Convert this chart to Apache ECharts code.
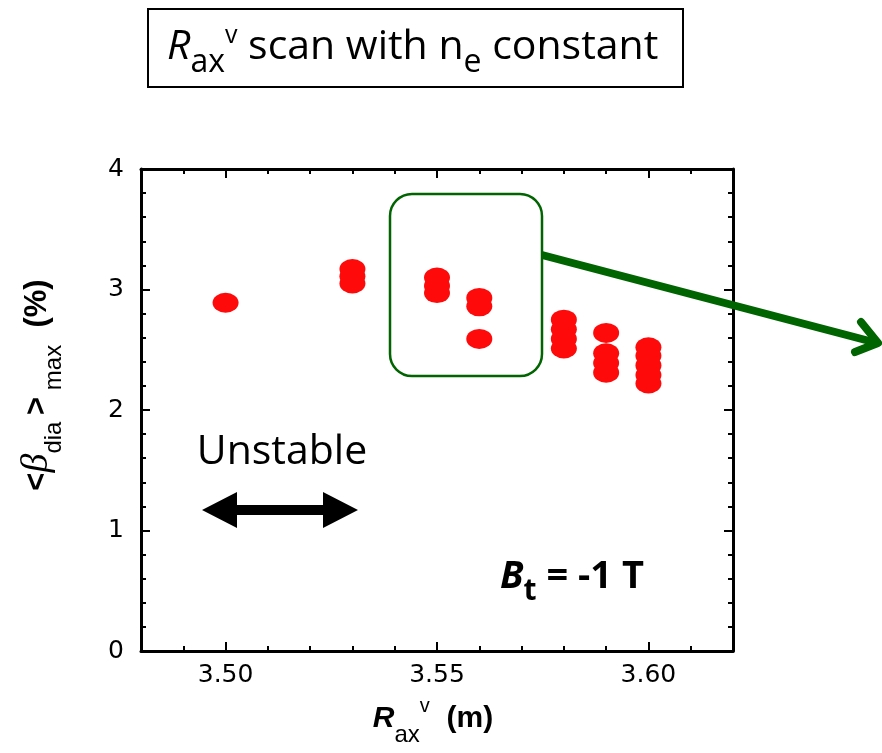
<!DOCTYPE html>
<html>
<head>
<meta charset="utf-8">
<script src="https://cdn.jsdelivr.net/npm/echarts@6/dist/echarts.min.js"></script>
<style>
  html, body { margin: 0; padding: 0; background: #fff; }
  #chart { width: 882px; height: 753px; }
</style>
</head>
<body>
<div id="chart"></div>
<script>
// Magnetic axis position scan: R_ax^v (m) vs peak diamagnetic beta (%)
const rax = [3.50,
             3.53, 3.53, 3.53,
             3.55, 3.55, 3.55,
             3.56, 3.56, 3.56,
             3.58, 3.58, 3.58, 3.58,
             3.59, 3.59, 3.59, 3.59,
             3.60, 3.60, 3.60, 3.60, 3.60];
const betaMax = [2.89,
                 3.17, 3.11, 3.05,
                 3.10, 3.03, 2.97,
                 2.93, 2.86, 2.59,
                 2.75, 2.67, 2.59, 2.51,
                 2.64, 2.47, 2.39, 2.31,
                 2.52, 2.45, 2.37, 2.29, 2.22];

const xMajorTicks = [3.50, 3.55, 3.60];
const xMinorTicks = [3.48, 3.49, 3.50, 3.51, 3.52, 3.53, 3.54, 3.55,
                     3.56, 3.57, 3.58, 3.59, 3.60, 3.61, 3.62];
const yTicks = [0, 1, 2, 3, 4];

const chart = echarts.init(document.getElementById('chart'), null, { renderer: 'canvas' });

const grid = { left: 141, right: 149, top: 169, bottom: 102 };
const black = '#000';
const tickFont = { fontFamily: 'DejaVu Sans', fontSize: 25, color: black };

function xAxisDef(position, ticks, len, withLine, withLabels) {
  return {
    type: 'value', position: position, min: 3.48, max: 3.62,
    splitLine: { show: false },
    axisLine: { show: withLine, onZero: false, lineStyle: { color: black, width: 3 } },
    axisTick: { show: true, inside: true, length: len, customValues: ticks,
                lineStyle: { color: black, width: 2 } },
    axisLabel: withLabels ? Object.assign({
      show: true, margin: 12, customValues: xMajorTicks,
      formatter: v => v.toFixed(2)
    }, tickFont) : { show: false }
  };
}

function yAxisDef(position, withLabels) {
  return {
    type: 'value', position: position, min: 0, max: 4, interval: 1,
    splitLine: { show: false },
    axisLine: { show: true, onZero: false, lineStyle: { color: black, width: 3 } },
    axisTick: { show: true, inside: true, length: 9, lineStyle: { color: black, width: 2 } },
    minorTick: { show: true, splitNumber: 5, length: 5, lineStyle: { color: black, width: 2 } },
    axisLabel: withLabels ? Object.assign({ show: true, margin: 17, customValues: yTicks }, tickFont)
                          : { show: false }
  };
}

// rich-text pieces: subscripts are pushed down with top padding,
// superscripts lifted with bottom padding
function sub(family, size, drop, extra) {
  return Object.assign({ fontFamily: family, fontSize: size, lineHeight: 4,
                         padding: [drop * 2, 0, 0, 0] }, extra || {});
}
function sup(family, size, rise, extra) {
  return Object.assign({ fontFamily: family, fontSize: size, lineHeight: 4,
                         padding: [0, 0, rise * 2, 0] }, extra || {});
}

const green = '#006400';

const option = {
  backgroundColor: '#fff',
  animation: false,
  grid: grid,
  xAxis: [
    xAxisDef('bottom', xMinorTicks, 5, true, true),
    xAxisDef('bottom', xMajorTicks, 9, false, false),
    xAxisDef('top', xMinorTicks, 5, true, false),
    xAxisDef('top', xMajorTicks, 9, false, false)
  ],
  yAxis: [
    yAxisDef('left', true),
    yAxisDef('right', false)
  ],
  series: [{
    type: 'scatter',
    xAxisIndex: 0, yAxisIndex: 0,
    symbol: 'circle',
    symbolSize: [26, 20],
    itemStyle: { color: '#ff0a0a', opacity: 1 },
    data: rax.map((x, i) => [x, betaMax[i]]),
    z: 3
  }],
  graphic: [
    // title box
    { type: 'rect', shape: { x: 148, y: 9, width: 535, height: 78 },
      style: { fill: 'none', stroke: black, lineWidth: 2 } },
    { type: 'text', x: 167, y: 47,
      style: {
        text: '{ri|R}{sb|ax}{sp|v}{m| scan with n}{sb|e}{m| constant}',
        textAlign: 'left', textVerticalAlign: 'middle', fill: black,
        rich: {
          ri: { fontFamily: 'Open Sans', fontStyle: 'italic', fontSize: 41, lineHeight: 50 },
          m:  { fontFamily: 'Open Sans', fontSize: 41, lineHeight: 50 },
          sb: sub('Open Sans', 32, 16),
          sp: sup('Open Sans', 25, 11)
        }
      } },
    // unstable region annotation
    { type: 'text', x: 282, y: 452,
      style: { text: 'Unstable', fontFamily: 'Open Sans', fontSize: 41, fill: black,
               textAlign: 'center', textVerticalAlign: 'middle' } },
    { type: 'polygon',
      shape: { points: [[202, 510], [237, 492], [237, 505], [323, 505], [323, 492],
                        [358, 510], [323, 528], [323, 515], [237, 515], [237, 528]] },
      style: { fill: black } },
    // field annotation
    { type: 'text', x: 500, y: 577,
      style: {
        text: '{bi|B}{bs|t}{b| = -1 T}',
        textAlign: 'left', textVerticalAlign: 'middle', fill: black,
        rich: {
          bi: { fontFamily: 'Open Sans', fontWeight: 'bold', fontStyle: 'italic', fontSize: 38, lineHeight: 44 },
          b:  { fontFamily: 'Open Sans', fontWeight: 'bold', fontSize: 38, lineHeight: 44 },
          bs: sub('Open Sans', 30, 14, { fontWeight: 'bold' })
        }
      } },
    // highlight box and pointer
    { type: 'rect', shape: { x: 390, y: 194, width: 152, height: 182, r: 22 },
      style: { fill: 'none', stroke: green, lineWidth: 2.5 }, z: 10 },
    { type: 'polyline', shape: { points: [[542, 255], [877, 343]] },
      style: { stroke: green, lineWidth: 8, fill: 'none' }, z: 10 },
    { type: 'polyline', shape: { points: [[861, 322], [878, 343], [855, 352]] },
      style: { stroke: green, lineWidth: 8, fill: 'none', lineCap: 'round', lineJoin: 'round' }, z: 10 },
    // axis titles
    { type: 'text', x: 433, y: 719,
      style: {
        text: '{bi|R}{s|ax}{p|v}{b|  (m)}',
        textAlign: 'center', textVerticalAlign: 'middle', fill: black,
        rich: {
          bi: { fontFamily: 'Liberation Sans', fontWeight: 'bold', fontStyle: 'italic', fontSize: 30, lineHeight: 34 },
          b:  { fontFamily: 'Liberation Sans', fontWeight: 'bold', fontSize: 30, lineHeight: 34 },
          s:  sub('Liberation Sans', 24, 16),
          p:  sup('Liberation Sans', 20, 13)
        }
      } },
    { type: 'text', x: 37, y: 385, rotation: Math.PI / 2,
      style: {
        text: '{b|<}{g|β}{s|dia }{b|>}{s| max}{b|  (%)}',
        textAlign: 'center', textVerticalAlign: 'middle', fill: black,
        rich: {
          b: { fontFamily: 'Liberation Sans', fontWeight: 'bold', fontSize: 31, lineHeight: 36 },
          g: { fontFamily: 'Liberation Serif', fontStyle: 'italic', fontSize: 38, lineHeight: 36 },
          s: sub('Liberation Sans', 24, 17)
        }
      } }
  ]
};

chart.setOption(option);
</script>
</body>
</html>
